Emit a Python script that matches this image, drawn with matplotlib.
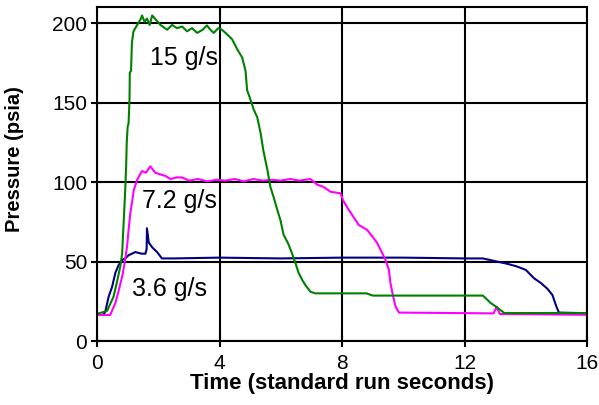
import matplotlib
matplotlib.use("Agg")
import matplotlib.pyplot as plt

plt.rcParams["font.family"] = ["Liberation Sans", "DejaVu Sans"]

# 15 g/s run (green)
t_15 = [0, 0.33, 0.54, 0.65, 0.76, 0.82, 0.87, 0.92, 0.95, 0.97, 1.0, 1.03, 1.06, 1.07,
        1.11, 1.14, 1.19, 1.31, 1.42, 1.47, 1.55, 1.63, 1.72, 1.80, 1.96, 2.07, 2.29,
        2.45, 2.61, 2.78, 2.94, 3.1, 3.27, 3.45, 3.59, 3.7, 3.81, 3.96, 4.08, 4.25, 4.41,
        4.58, 4.74, 4.85, 4.90, 5.01, 5.11, 5.23, 5.34, 5.43, 5.56, 5.66, 5.76, 5.88,
        5.99, 6.09, 6.25, 6.37, 6.48, 6.58, 6.70, 6.81, 6.97, 7.13, 8.8, 9.0, 12.6,
        12.85, 13.07, 13.3, 16]
p_15 = [17, 19, 28, 37, 47, 55, 75, 95, 110, 125, 135, 137, 152, 169,
        170, 188, 195, 199, 202.5, 205, 201, 203, 199, 205, 201.5, 199, 196,
        199, 197, 198, 195, 197, 194, 196, 198.7, 196, 194, 197, 196, 193, 190,
        183.6, 178.5, 170, 158, 152, 146, 141, 131, 120, 108, 97, 91, 83,
        76, 67, 61, 55, 49, 43, 38.5, 35, 31, 30, 30, 28.6, 28.6,
        24, 21, 17.6, 17.6]

# 7.2 g/s run (magenta)
t_72 = [0, 0.43, 0.6, 0.71, 0.82, 0.9, 0.98, 1.03, 1.09, 1.14, 1.2, 1.31, 1.47, 1.6,
        1.74, 1.9, 2.05, 2.23, 2.4, 2.6, 2.78, 3.0, 3.3, 3.6, 3.9, 4.2, 4.5, 4.8, 5.1,
        5.4, 5.7, 6.0, 6.3, 6.6, 6.97, 7.19, 7.4, 7.62, 7.95, 8.05, 8.22, 8.39, 8.55,
        8.82, 8.99, 9.15, 9.31, 9.42, 9.53, 9.58, 9.67, 9.75, 9.86, 12.95, 13.05,
        13.15, 16]
p_72 = [16.4, 16.4, 24, 32, 40.6, 49, 59.5, 70, 81, 87, 95, 101.6, 107, 106,
        110, 106, 105, 104, 102, 103, 103, 101, 102, 100.5, 101.5, 101, 102, 100.5, 102,
        101, 101.5, 101, 102, 101, 102, 98.4, 97, 94, 93, 88, 82.6, 77.6, 73,
        70, 65.8, 61.6, 55.5, 51, 44.8, 36.6, 28, 21.6, 17.9, 17.4, 21.6,
        17, 16.5]

# 3.6 g/s run (navy)
t_36 = [0, 0.2, 0.27, 0.38, 0.49, 0.6, 0.71, 0.82, 0.92, 1.03, 1.25, 1.45, 1.58, 1.62,
        1.63, 1.69, 1.8, 1.96, 2.12, 2.5, 4, 6, 8, 10, 12, 12.6, 13.07, 13.4, 13.7,
        14.0, 14.27, 14.5, 14.7, 14.87, 14.98, 15.08, 16]
p_36 = [16.4, 16.4, 18.5, 28, 34, 43, 48, 51, 52, 54, 56, 55, 55, 58,
        71, 62, 59, 56, 52, 52, 52.5, 52, 52.5, 52.5, 52, 52, 50, 48.6, 47,
        44.8, 39.5, 36.4, 33, 29, 22.7, 17.9, 17.5]

labels = ["15 g/s", "7.2 g/s", "3.6 g/s"]
label_pos = [(1.74, 174), (1.47, 83.7), (1.14, 28.4)]

fig = plt.figure(figsize=(5.99, 4.05), dpi=100)
ax = fig.add_axes([0.162, 0.158, 0.818, 0.8235])

ax.plot(t_36, p_36, color="#000080", lw=1.5)
ax.plot(t_72, p_72, color="#FF00FF", lw=1.5)
ax.plot(t_15, p_15, color="#008000", lw=1.5)

for txt, (x, y) in zip(labels, label_pos):
    ax.text(x, y, txt, fontsize=18, va="baseline", ha="left")

ax.set_xlim(0, 16)
ax.set_ylim(0, 210)
ax.set_xticks([0, 4, 8, 12, 16])
ax.set_yticks([0, 50, 100, 150, 200])
ax.grid(True, color="black", lw=1.5)
ax.set_axisbelow(True)
for s in ax.spines.values():
    s.set_linewidth(1.5)
ax.tick_params(direction="inout", length=8, width=1.5, labelsize=15, pad=3)
ax.tick_params(axis="x", pad=5)

ax.set_xlabel("Time (standard run seconds)", fontsize=16, fontweight="bold", labelpad=0)
ax.set_ylabel("Pressure (psia)", fontsize=14.5, fontweight="bold")
ax.yaxis.set_label_coords(-0.149, 0.546)

fig.savefig("out.png", dpi=100)
